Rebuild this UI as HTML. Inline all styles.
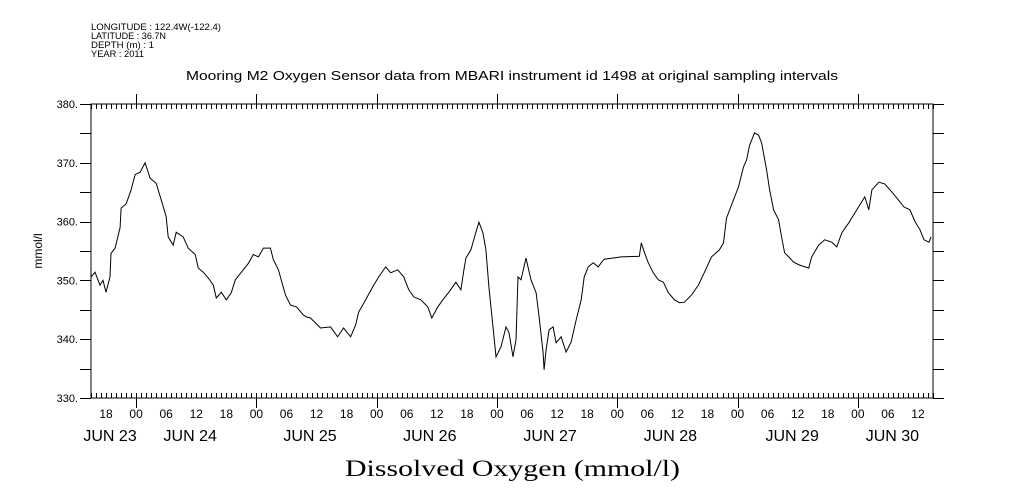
<!DOCTYPE html>
<html><head><meta charset="utf-8"><style>
body{margin:0;background:#fff;}
svg{display:block;font-family:"Liberation Sans",sans-serif;}
</style></head><body>
<svg id="chart" width="1009" height="504" viewBox="0 0 1009 504" xmlns="http://www.w3.org/2000/svg">
<g font-size="9.5" fill="#000">
<text x="91" y="30" textLength="130" lengthAdjust="spacingAndGlyphs">LONGITUDE : 122.4W(-122.4)</text>
<text x="91" y="39" textLength="75" lengthAdjust="spacingAndGlyphs">LATITUDE : 36.7N</text>
<text x="91" y="48" textLength="63" lengthAdjust="spacingAndGlyphs">DEPTH (m) : 1</text>
<text x="91" y="57" textLength="53" lengthAdjust="spacingAndGlyphs">YEAR : 2011</text>
</g>
<text x="186" y="80" font-size="12.5" textLength="652" lengthAdjust="spacingAndGlyphs">Mooring M2 Oxygen Sensor data from MBARI instrument id 1498 at original sampling intervals</text>
<text transform="translate(42,251) rotate(-90)" font-size="12" text-anchor="middle">mmol/l</text>
<text x="345" y="476" font-size="23" font-family="Liberation Serif, serif" textLength="335" lengthAdjust="spacingAndGlyphs">Dissolved Oxygen (mmol/l)</text>
<rect x="91" y="104" width="842" height="294" fill="none" stroke="#000" stroke-width="1"/>
<g id="axes"></g>
<path id="series" fill="none" stroke="#000" stroke-width="1"/>
</svg>
<script>
const hours=[0,0.8,1.8,2.4,3,3.8,4,4.8,5.8,6,7,8,8.8,9.8,10.8,11.8,13,14,15,15.4,16.4,17,18.4,19.4,20.8,21.4,22.4,23.4,24.4,25,26,27,28,28.8,30,31.4,32.4,33.4,34.4,35.8,36.4,37.4,38.8,39.8,41,42.4,43,43.8,45.8,47.8,49.2,50.4,51.8,52.8,53.4,54.8,56.2,57.4,58.8,59.8,61.2,62.4,63.4,64.4,65.8,67.2,68,69.2,70.2,71.4,72.8,73.8,74.4,74.8,75.8,76.8,77.4,78.2,78.8,79.4,80.2,80.8,81.8,82.8,83.4,84.2,84.8,85.2,85.8,86.8,87.8,88.8,89.4,90.2,90.4,90.8,91.4,92.2,92.8,93.8,94.8,95.8,96.8,97.8,98.4,99.2,100.2,101.2,101.8,102.4,105.8,109.4,109.8,110.4,111.2,112.2,113.2,114.2,115.2,116.4,117.4,118.4,119.8,121.2,122.4,123.8,125.4,126.2,126.8,128.2,129.2,130.2,130.8,131.4,132.4,133.2,133.8,134.8,135.4,136.2,137.2,137.8,138.4,139.2,140.2,141.4,143.2,143.8,145.2,146.4,147.8,148.8,149.8,151.2,152.8,154.4,155.2,155.8,157.2,158.4,159.4,160.8,162.2,163.4,164.4,165.4,166.2,167.2,167.6];
const oxygen=[350.6,351.4,349.2,350,348,350.6,354.6,355.5,359,362.3,363,365.4,368,368.4,370,367.4,366.5,363.7,360.8,357.4,356,358.2,357.4,355.5,354.4,352.1,351.4,350.4,349.2,347,348,346.7,347.9,350.1,351.4,352.9,354.4,354,355.5,355.5,353.5,351.8,347.5,345.8,345.5,344.1,343.8,343.6,341.9,342.1,340.4,341.9,340.4,342.4,344.6,346.7,348.9,350.6,352.3,351.3,351.8,350.6,348.4,347.2,346.7,345.5,343.6,345.5,346.7,348,349.7,348.4,351.8,353.8,355.2,358.2,359.9,358.1,355.2,348.9,342.1,337,338.7,342.1,341.1,337,339.9,350.6,350.1,353.8,350.1,347.9,343.8,337.7,334.8,338.2,341.6,342.1,339.4,340.4,337.8,339.5,343.3,346.7,350.6,352.3,353,352.3,353,353.6,354,354.1,356.4,354.8,353,351.3,350.1,349.7,347.9,346.7,346.2,346.3,347.5,349.2,351.4,354,355.2,356.4,360.6,363.7,365.9,369.3,370.5,373,375.1,374.7,373.4,368.8,365.4,362,360.3,357.4,354.7,354,353.1,352.6,352.1,354,356,356.9,356.5,355.7,358.1,359.8,362,364.2,362,365.4,366.7,366.4,365.4,364,362.5,362,360,358.6,356.9,356.5,357.4];
const yTicks=[330,340,350,360,370,380];
const yTickLabels=["330.","340.","350.","360.","370.","380."];
const hourLabels=["18","00","06","12"];
const dayLabels=["JUN 23","JUN 24","JUN 25","JUN 26","JUN 27","JUN 28","JUN 29","JUN 30"];
const dayLabelHours=[3.8,19.8,43.7,67.6,91.6,115.6,139.9,159.9];

const X0=91,X1=933,Y0=398,Y1=104,HMAX=168,VMIN=330,VMAX=380;
const xs=h=>X0+(X1-X0)*h/HMAX;
const ys=v=>Y0-(Y0-Y1)*(v-VMIN)/(VMAX-VMIN);
const NS="http://www.w3.org/2000/svg";
const axes=document.getElementById('axes');
let d="";
function line(x1,y1,x2,y2){d+=`M${x1},${y1}L${x2},${y2}`;}
for(let h=0;h<=HMAX;h++){
  const x=Math.round(xs(h))+0.5;
  const major=((h+15)%24===0);
  if(major){line(x,Y1-10,x,Y1+5);line(x,Y0-5,x,Y0+10);}
  else{line(x,Y1,x,Y1+5);line(x,Y0-5,x,Y0);}
}
for(let v=VMIN;v<=VMAX;v+=5){
  const y=Math.round(ys(v))+0.5;
  line(X0-11,y,X0,y);line(X1,y,X1+11,y);
}
const tp=document.createElementNS(NS,'path');
tp.setAttribute('d',d);tp.setAttribute('stroke','#000');tp.setAttribute('fill','none');


axes.appendChild(tp);
yTicks.forEach((v,i)=>{
  const t=document.createElementNS(NS,'text');
  t.setAttribute('x',78);t.setAttribute('y',ys(v)+4);t.setAttribute('font-size','11');t.setAttribute('text-anchor','end');
  t.textContent=yTickLabels[i];
  
  
  axes.appendChild(t);
});
for(let h=3,i=0;h<=HMAX;h+=6,i++){
  const t=document.createElementNS(NS,'text');
  t.setAttribute('x',xs(h));t.setAttribute('y',418);t.setAttribute('font-size','12');t.setAttribute('text-anchor','middle');
  t.textContent=hourLabels[i%4];
  
  
  axes.appendChild(t);
}
dayLabels.forEach((s,i)=>{
  const t=document.createElementNS(NS,'text');
  t.setAttribute('x',xs(dayLabelHours[i]));t.setAttribute('y',441);t.setAttribute('font-size','16');t.setAttribute('text-anchor','middle');
  t.textContent=s;
  
  
  axes.appendChild(t);
});
document.getElementById('series').setAttribute('d',hours.map((h,i)=>(i?'L':'M')+xs(h).toFixed(1)+','+ys(oxygen[i]).toFixed(1)).join(''));
</script>
</body></html>
